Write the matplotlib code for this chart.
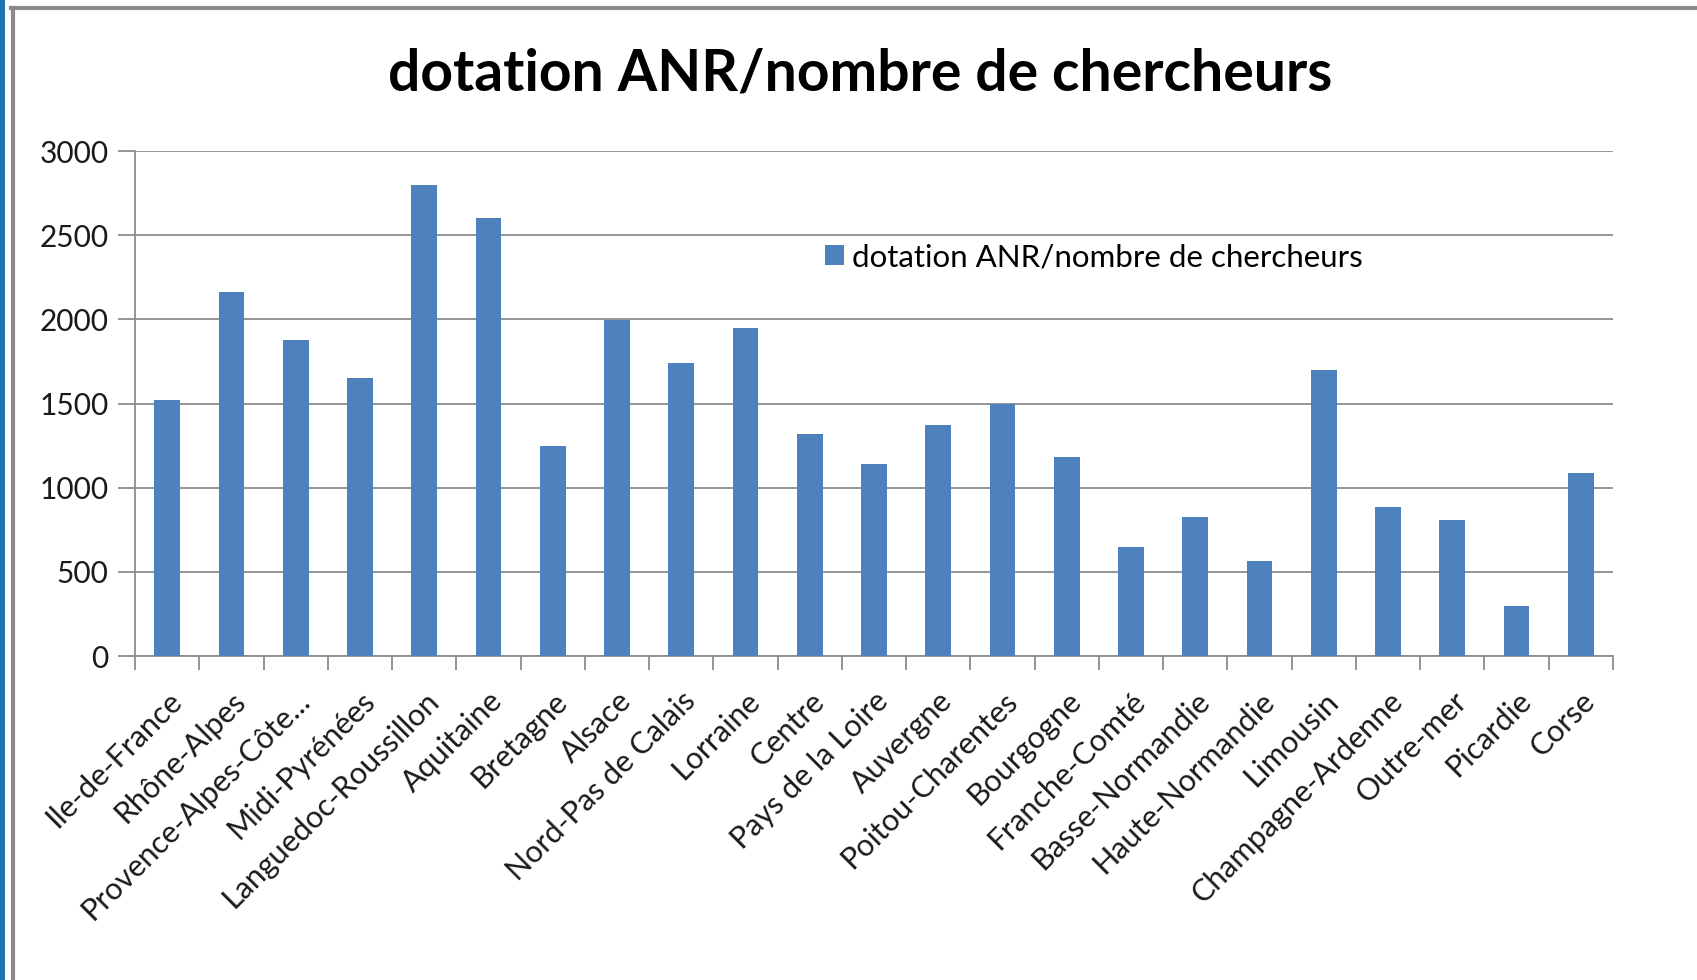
import matplotlib.pyplot as plt
from matplotlib.patches import Rectangle
from matplotlib.lines import Line2D
import numpy as np

plt.rcParams['font.family'] = ['Lato', 'DejaVu Sans']

regions = [
    'Ile-de-France', 'Rhône-Alpes', 'Provence-Alpes-Côte...', 'Midi-Pyrénées',
    'Languedoc-Roussillon', 'Aquitaine', 'Bretagne', 'Alsace',
    'Nord-Pas de Calais', 'Lorraine', 'Centre', 'Pays de la Loire',
    'Auvergne', 'Poitou-Charentes', 'Bourgogne', 'Franche-Comté',
    'Basse-Normandie', 'Haute-Normandie', 'Limousin', 'Champagne-Ardenne',
    'Outre-mer', 'Picardie', 'Corse',
]
dotation = [
    1520, 2160, 1880, 1650, 2800, 2600, 1250, 1995,
    1740, 1950, 1320, 1140, 1370, 1500, 1185, 650,
    825, 565, 1700, 885, 805, 295, 1090,
]
y_ticks = [0, 500, 1000, 1500, 2000, 2500, 3000]
title = 'dotation ANR/nombre de chercheurs'

W, H = 1697, 980
fig = plt.figure(figsize=(W / 100, H / 100), dpi=100)
fig.patch.set_facecolor('white')

# window frame decoration (blue strip on the left, grey border)
fig.add_artist(Rectangle((0, 0), 5 / W, 1, transform=fig.transFigure,
                         facecolor='#1e73b0', edgecolor='none'))
fig.add_artist(Line2D([12.5 / W, 12.5 / W], [0, 1 - 8.5 / H], transform=fig.transFigure,
                      color='#8a8a8a', linewidth=3))
fig.add_artist(Line2D([11 / W, 1], [1 - 8.5 / H, 1 - 8.5 / H], transform=fig.transFigure,
                      color='#8a8a8a', linewidth=3))

left, right, top, bottom = 135, 1613, 151, 656
ax = fig.add_axes([left / W, 1 - bottom / H, (right - left) / W, (bottom - top) / H])

x = np.arange(len(regions))
ax.bar(x, dotation, width=0.4, color='#4f81bd', label=title, zorder=3)

ax.set_xlim(-0.5, len(regions) - 0.5)
ax.set_ylim(0, 3000)
ax.set_yticks(y_ticks)
ax.set_yticklabels([str(v) for v in y_ticks], fontsize=21.5, color='#1a1a1a')
ax.yaxis.grid(True, color='#8c8c8c', linewidth=1.3, zorder=0)

ax.set_xticks(x)
ax.set_xticklabels(regions, rotation=45, ha='right', rotation_mode='anchor',
                   fontsize=22, color='#1a1a1a')
ax.set_xticks(np.arange(len(regions) + 1) - 0.5, minor=True)
ax.tick_params(axis='x', which='major', length=0, pad=22)
ax.tick_params(axis='x', which='minor', length=10, width=1.3, color='#8c8c8c', direction='out')
ax.tick_params(axis='y', length=12, width=1.3, color='#8c8c8c', pad=7)

for side in ['top', 'right']:
    ax.spines[side].set_visible(False)
for side in ['left', 'bottom']:
    ax.spines[side].set_color('#8c8c8c')
    ax.spines[side].set_linewidth(1.3)

fig.text(860 / W, 1 - 74 / H, title, ha='center', va='center',
         fontsize=41, fontweight='bold', color='black')

ax.legend(loc='center left', bbox_to_anchor=((825 - left) / (right - left), (656 - 257) / (bottom - top)),
          frameon=False, fontsize=22.5, handlelength=0.6, handleheight=0.6,
          handletextpad=0.25, borderpad=0, borderaxespad=0)

fig.savefig('out.png', dpi=100)
